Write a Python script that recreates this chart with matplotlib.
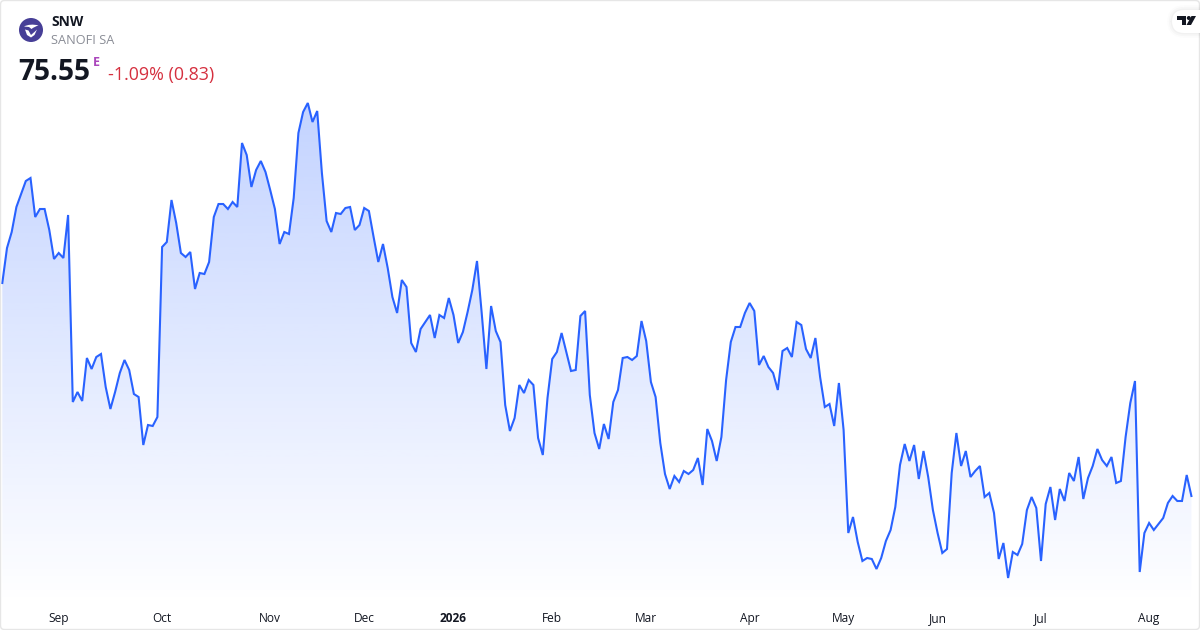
#!/usr/bin/python

import numpy as np
from matplotlib import pyplot as plt
from matplotlib.patches import Circle, FancyBboxPatch, Polygon, PathPatch
from matplotlib.path import Path

plt.rcParams['font.family'] = ['Open Sans', 'DejaVu Sans']

ticker = "SNW"
company = "SANOFI SA"
last_price = "75.55"
price_flag = "E"
change_text = "-1.09% (0.83)"

#Daily closes
closes = [
    84.07, 85.47, 86.11, 87.11, 87.63, 88.15, 88.27, 86.71, 87.03, 87.03,
    86.19, 85.03, 85.27, 85.07, 86.79, 79.31, 79.71, 79.35, 81.07, 80.63,
    81.11, 81.23, 79.91, 79.03, 79.71, 80.47, 80.99, 80.59, 79.63, 79.51,
    77.59, 78.39, 78.35, 78.71, 85.51, 85.71, 87.39, 86.47, 85.27, 85.11,
    85.31, 83.83, 84.47, 84.43, 84.91, 86.71, 87.23, 87.23, 87.03, 87.31,
    87.11, 89.67, 89.19, 87.91, 88.59, 88.95, 88.51, 87.79, 87.03, 85.63,
    86.11, 86.03, 87.47, 90.07, 90.91, 91.27, 90.51, 90.95, 88.47, 86.55,
    86.11, 86.87, 86.83, 87.07, 87.11, 86.19, 86.39, 87.07, 86.95, 85.91,
    84.91, 85.63, 84.67, 83.51, 82.87, 84.19, 83.91, 81.67, 81.31, 82.23,
    82.51, 82.79, 81.87, 82.79, 82.67, 83.47, 82.79, 81.67, 82.11, 82.91,
    83.79, 84.95, 82.87, 80.63, 83.15, 82.15, 81.71, 79.19, 78.15, 78.67,
    79.99, 79.67, 80.19, 79.99, 77.87, 77.19, 79.47, 81.03, 81.31, 82.07,
    81.31, 80.55, 80.59, 82.75, 82.95, 79.59, 78.07, 77.43, 78.43, 77.83,
    79.31, 79.79, 81.07, 81.11, 80.99, 81.15, 82.55, 81.75, 80.11, 79.51,
    77.67, 76.43, 75.83, 76.35, 76.11, 76.55, 76.43, 76.59, 77.07, 75.99,
    78.23, 77.75, 76.95, 77.91, 80.19, 81.71, 82.31, 82.31, 82.87, 83.27,
    82.95, 80.79, 81.15, 80.71, 80.47, 79.79, 81.35, 81.47, 81.11, 82.51,
    82.39, 81.43, 81.07, 81.87, 80.31, 79.11, 79.23, 78.35, 80.07, 78.19,
    74.07, 74.71, 73.71, 72.95, 73.07, 73.03, 72.63, 73.07, 73.75, 74.19,
    75.11, 76.79, 77.63, 76.95, 77.59, 76.23, 77.35, 76.31, 74.99, 74.07,
    73.27, 73.43, 76.47, 78.07, 76.75, 77.35, 76.31, 76.55, 76.75, 75.51,
    75.67, 74.87, 73.03, 73.67, 72.27, 73.31, 73.19, 73.63, 74.99, 75.51,
    75.07, 72.95, 75.23, 75.91, 74.59, 75.83, 75.35, 76.47, 76.15, 77.11,
    75.43, 76.27, 76.75, 77.43, 76.99, 76.75, 77.11, 76.07, 76.15, 77.91,
    79.27, 80.15, 72.51, 74.07, 74.47, 74.19, 74.43, 74.67, 75.27, 75.55,
    75.35, 75.35, 76.39, 75.55,
]

#Session number where each month starts
month_sessions = [12, 34, 57, 77, 96, 117, 137, 159, 179, 199, 221, 244]
month_labels = ["Sep", "Oct", "Nov", "Dec", "2026", "Feb", "Mar", "Apr", "May", "Jun", "Jul", "Aug"]

LINE_BLUE = "#2962ff"

fig = plt.figure(figsize=(12, 6.3), dpi=100, facecolor="white")

#Main plot, 1 price unit = 25 px and 1 session = 4.7 px
ax = fig.add_axes([0, 25 / 630, 1, 605 / 630])
ax.set_facecolor("none")
ax.set_xlim(-2.3 / 4.7, 1197.7 / 4.7)
ax.set_ylim(71.19, 95.39)
for spine in ax.spines.values():
    spine.set_visible(False)
ax.set_yticks([])
ax.set_xticks(month_sessions)
ax.set_xticklabels(month_labels, fontsize=8.6, color="#131722")
ax.tick_params(axis="x", length=0, pad=5)
ax.get_xticklabels()[month_labels.index("2026")].set_fontweight("bold")

sessions = np.arange(len(closes))
line, = ax.plot(sessions, closes, color=LINE_BLUE, lw=1.5, solid_joinstyle="miter", zorder=3)

#Gradient under the line, clipped to the area
top_price = 91.27
bottom_price = 71.19
shade = np.ones((256, 1, 4))
shade[:, :, 0] = 0x29 / 255.0
shade[:, :, 1] = 0x62 / 255.0
shade[:, :, 2] = 1.0
shade[:, 0, 3] = np.linspace(0.28, 0.0, 256)
img = ax.imshow(shade, extent=[0, len(closes) - 1, bottom_price, top_price],
                aspect="auto", origin="upper", zorder=1, interpolation="bilinear")
ax.set_xlim(-2.3 / 4.7, 1197.7 / 4.7)
ax.set_ylim(71.19, 95.39)
outline = list(zip(sessions, closes)) + [(sessions[-1], bottom_price), (0, bottom_price)]
clip = Polygon(outline, closed=True, transform=ax.transData, fc="none", ec="none")
ax.add_patch(clip)
img.set_clip_path(clip)

#Overlay in pixel coordinates for header, logos and frame
over = fig.add_axes([0, 0, 1, 1])
over.set_xlim(0, 1200)
over.set_ylim(630, 0)
over.axis("off")
over.patch.set_alpha(0)

over.add_patch(FancyBboxPatch((0.5, 0.5), 1199, 629, boxstyle="round,pad=0,rounding_size=4",
                              fc="none", ec="#e6e6e6", lw=1.0))

#Company logo
over.add_patch(Circle((31, 30), 12, fc="#473f97", ec="none"))
swoosh = Path([(24, 26.5), (28, 24.5), (33, 24), (38.5, 25.5), (34.5, 26.5), (31.5, 29), (29, 27), (24, 26.5)],
              [Path.MOVETO, Path.CURVE4, Path.CURVE4, Path.CURVE4, Path.CURVE3, Path.CURVE3, Path.LINETO, Path.CLOSEPOLY])
over.add_patch(PathPatch(swoosh, fc="white", ec="none"))
over.add_patch(Polygon([(25, 29.5), (28.5, 30.5), (31, 35), (35, 31.5), (37, 29.5), (34.5, 35), (31, 37.5), (27, 35)],
                       fc="white", ec="none"))

over.text(51, 21.5, ticker, fontsize=10, fontweight="bold", color="#131722", va="center", ha="left")
over.text(51, 41, company, fontsize=9.15, color="#8a8d96", va="center", ha="left")
over.text(18.5, 72, last_price, fontsize=20.2, fontweight="bold", color="#131722", va="center", ha="left")
over.text(92.5, 62, price_flag, fontsize=9, fontweight="bold", color="#ab47bc", va="center", ha="left")
over.text(108, 75, change_text, fontsize=12.9, color="#d5303f", va="center", ha="left")

#TradingView badge at the top right, soft shadow then the white pill
for width, alpha in [(7, 0.012), (4.5, 0.018), (2, 0.025)]:
    over.add_patch(FancyBboxPatch((1172, 10), 40, 23, boxstyle="round,pad=0,rounding_size=12",
                                  fc="none", ec="black", lw=width, alpha=alpha))
over.add_patch(FancyBboxPatch((1172, 10), 40, 23, boxstyle="round,pad=0,rounding_size=12",
                              fc="white", ec="none"))
over.add_patch(Polygon([(1177, 16), (1186, 16), (1186, 25), (1181.5, 25), (1181.5, 20), (1177, 20)],
                       fc="#131722", ec="none"))
over.add_patch(Circle((1188.8, 18), 2, fc="#131722", ec="none"))
over.add_patch(Polygon([(1191.5, 16), (1196, 16), (1191, 25), (1186.5, 25)], fc="#131722", ec="none"))
over.set_xlim(0, 1200)
over.set_ylim(630, 0)

plt.savefig("out.png", dpi=100)
